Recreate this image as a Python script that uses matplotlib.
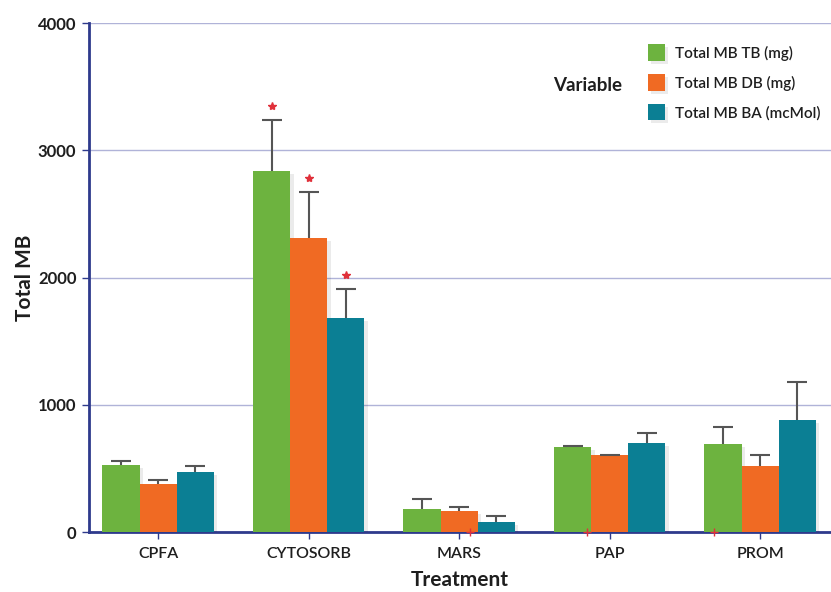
import matplotlib
matplotlib.use("Agg")
import matplotlib.pyplot as plt
import matplotlib.patheffects as pe
import numpy as np

categories = ["CPFA", "CYTOSORB", "MARS", "PAP", "PROM"]
series_names = ["Total MB TB (mg)", "Total MB DB (mg)", "Total MB BA (mcMol)"]
tb_mean = [530, 2840, 183, 670, 692]
tb_err = [30, 395, 76, 8, 131]
db_mean = [380, 2313, 163, 608, 519]
db_err = [27, 357, 33, 0, 84]
ba_mean = [474, 1682, 79, 702, 880]
ba_err = [45, 228, 49, 81, 304]
# groups flagged with a significance star (one flag per series)
star_tb = [False, True, False, False, False]
star_db = [False, True, False, False, False]
star_ba = [False, True, False, False, False]
# small red marks sitting on the baseline
baseline_marks = [2.07, 2.85, 3.69]
y_ticks = [0, 1000, 2000, 3000, 4000]

colors = ["#6db33f", "#f06a23", "#0b7f94"]
axis_blue = "#2e3a8c"
grid_col = "#b0b3d8"
err_col = "#555555"
star_col = "#e0303a"
text_col = "#1e1e1e"

plt.rcParams["font.family"] = ["Lato", "DejaVu Sans"]

fig = plt.figure(figsize=(8.31, 5.92), dpi=100)
ax = fig.add_axes([0.107, 0.101, 0.893, 0.860])

x = np.arange(len(categories))
w = 0.247
offsets = [-w, 0, w]
means = [tb_mean, db_mean, ba_mean]
errs = [tb_err, db_err, ba_err]
stars = [star_tb, star_db, star_ba]

shadow = [pe.SimplePatchShadow(offset=(2.5, -2), shadow_rgbFace="#000000", alpha=0.08), pe.Normal()]

for i in range(3):
    bars = ax.bar(x + offsets[i], means[i], width=w, color=colors[i],
                  label=series_names[i], zorder=3)
    for b in bars:
        b.set_path_effects(shadow)
    eb = ax.errorbar(x + offsets[i], means[i], yerr=[np.zeros(len(x)), errs[i]],
                     fmt="none", ecolor=err_col, elinewidth=1.5, capsize=7,
                     capthick=1.5, zorder=4)
    # keep only the upper caps
    caps = eb.lines[1]
    if len(caps) == 2:
        caps[0].set_visible(False)
    for j in range(len(x)):
        if stars[i][j]:
            ax.plot(x[j] + offsets[i], means[i][j] + errs[i][j] + 110,
                    marker="*", color=star_col, markersize=6, zorder=5,
                    linestyle="none")

ax.plot(baseline_marks, [0] * len(baseline_marks), marker="+", color=star_col,
        markersize=6, linestyle="none", zorder=6, clip_on=False)

ax.set_xlim(-0.46, 4.47)
ax.set_ylim(0, 4000)
ax.set_yticks(y_ticks)
ax.set_yticklabels([str(v) for v in y_ticks], fontsize=12, fontweight="bold")
ax.set_xticks(x)
ax.set_xticklabels(categories, fontsize=11.5, fontweight="semibold")
ax.yaxis.grid(True, color=grid_col, linewidth=1, zorder=0)
ax.set_axisbelow(True)

for s in ["top", "right"]:
    ax.spines[s].set_visible(False)
for s in ["left", "bottom"]:
    ax.spines[s].set_color(axis_blue)
    ax.spines[s].set_linewidth(2)
ax.tick_params(axis="both", colors=axis_blue, length=5, width=1)
ax.tick_params(axis="x", labelcolor=text_col, pad=6)
ax.tick_params(axis="y", labelcolor=text_col, pad=4)

ax.set_ylabel("Total MB", fontsize=15, fontweight="bold", labelpad=2, color=text_col)
ax.set_xlabel("Treatment", fontsize=15, fontweight="bold", labelpad=6, color=text_col)

leg = ax.legend(loc="upper right", bbox_to_anchor=(1.005, 0.985), frameon=False,
                prop={"size": 11, "weight": "semibold"}, handlelength=1.1,
                handleheight=1.3, handletextpad=0.7, labelspacing=0.85)
for t in leg.get_texts():
    t.set_color(text_col)
fig.text(0.665, 0.856, "Variable", fontsize=13.5, fontweight="bold",
         color=text_col, va="center")

fig.savefig("out.png", dpi=100)
